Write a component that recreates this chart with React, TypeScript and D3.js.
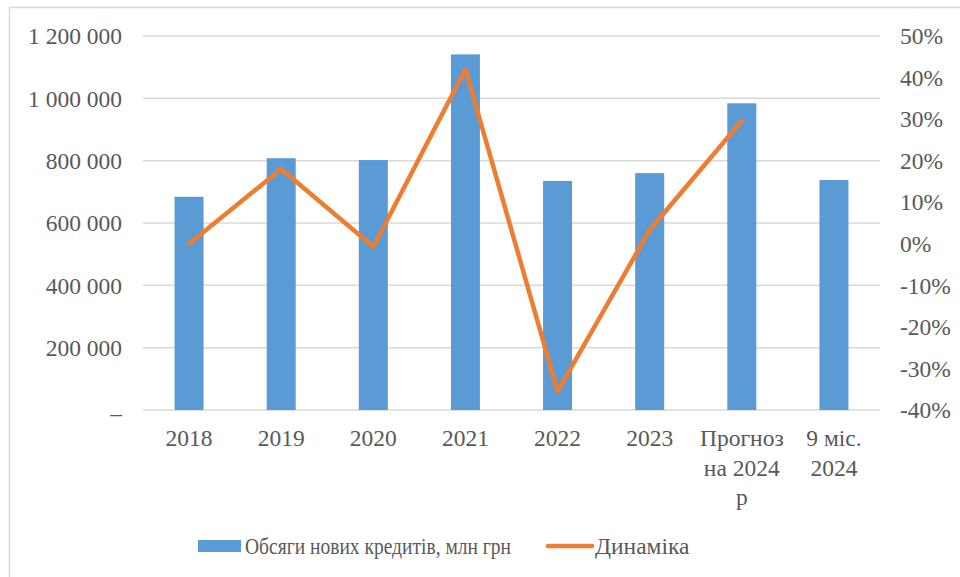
import React from "react";
import * as d3 from "d3";

const categories: string[][] = [
  ["2018"],
  ["2019"],
  ["2020"],
  ["2021"],
  ["2022"],
  ["2023"],
  ["Прогноз", "на 2024", "р"],
  ["9 міс.", "2024"],
];
const volumes: number[] = [684000, 808000, 802000, 1141000, 735000, 760000, 984000, 738000];
const dynamics: (number | null)[] = [0, 0.18, -0.007, 0.42, -0.355, 0.033, 0.296, null];
const leftTicks: number[] = [0, 200000, 400000, 600000, 800000, 1000000, 1200000];
const rightTicks: number[] = [-0.4, -0.3, -0.2, -0.1, 0, 0.1, 0.2, 0.3, 0.4, 0.5];
const seriesNames: string[] = ["Обсяги нових кредитів, млн грн", "Динаміка"];

const W = 960;
const H = 577;
const FONT = '"Liberation Serif", monospace';
const TXT = "#595959";
const FS = 23.5;
const ts: React.CSSProperties = { fontFamily: FONT };

export default function App() {
  const idx = categories.map((_, i) => String(i));
  const x = d3.scaleBand<string>().domain(idx).range([143, 880]).paddingInner(0.685).paddingOuter(0.3425);
  const yL = d3.scaleLinear().domain([0, 1200000]).range([410, 36]);
  const yR = d3.scaleLinear().domain([-0.4, 0.5]).range([410, 36]);
  const fmtL = (v: number) => (v === 0 ? "–" : d3.format(",")(v).replace(/,/g, " "));
  const fmtR = (v: number) => `${Math.round(v * 100)}%`;
  const line = d3
    .line<number | null>()
    .defined((d) => d !== null)
    .x((_, i) => (x(String(i)) as number) + x.bandwidth() / 2)
    .y((d) => yR(d as number));

  return (
    <svg width={W} height={H} style={{ position: "absolute", left: 0, top: 0, fontFamily: FONT }}>
      <rect x={0} y={0} width={W} height={H} fill="#fff" />
      <rect x={9.5} y={7.5} width={1200} height={1200} fill="none" stroke="#d9d9d9" strokeWidth={1.5} />
      {leftTicks.map((t) => (
        <line key={"g" + t} x1={143} x2={880} y1={yL(t)} y2={yL(t)} stroke="#d9d9d9" strokeWidth={1.5} />
      ))}
      {leftTicks.map((t) => (
        <text key={"l" + t} x={122} y={yL(t)} dy={t === 0 ? "0.45em" : "0.35em"} textAnchor="end" fontSize={FS} fill={TXT} style={ts}>
          {fmtL(t)}
        </text>
      ))}
      {rightTicks.map((t) => (
        <text key={"r" + t} x={900} y={yR(t)} dy="0.35em" textAnchor="start" fontSize={FS} fill={TXT} style={ts}>
          {fmtR(t)}
        </text>
      ))}
      {volumes.map((v, i) => (
        <rect
          key={"b" + i}
          x={x(String(i))}
          y={yL(v)}
          width={x.bandwidth()}
          height={yL(0) - yL(v)}
          fill="#5b9bd5"
        />
      ))}
      <path d={line(dynamics) || ""} fill="none" stroke="#ed7d31" strokeWidth={4.5} strokeLinecap="round" strokeLinejoin="round" />
      {categories.map((lines, i) => (
        <text key={"c" + i} textAnchor="middle" fontSize={FS} fill={TXT} style={ts}>
          {lines.map((s, j) => (
            <tspan key={j} x={(x(String(i)) as number) + x.bandwidth() / 2} y={446 + j * 29.5}>
              {s}
            </tspan>
          ))}
        </text>
      ))}
      <g>
        <rect x={198} y={540} width={43} height={12} fill="#5b9bd5" />
        <text x={245} y={554} fontSize={FS} fill={TXT} style={ts} textLength={266} lengthAdjust="spacingAndGlyphs">
          {seriesNames[0]}
        </text>
        <line x1={548} x2={592} y1={546} y2={546} stroke="#ed7d31" strokeWidth={4.5} strokeLinecap="round" />
        <text x={595} y={554} fontSize={FS} fill={TXT} style={ts}>
          {seriesNames[1]}
        </text>
      </g>
    </svg>
  );
}
